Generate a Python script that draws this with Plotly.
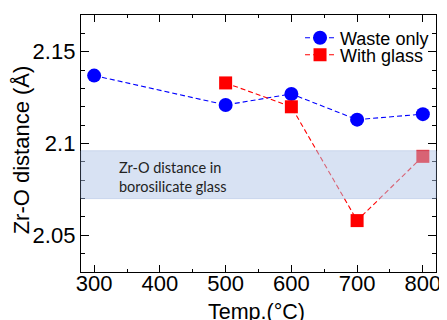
import plotly.graph_objects as go

temps_waste = [300, 500, 600, 700, 800]
waste_only = [2.137, 2.121, 2.127, 2.113, 2.116]
temps_glass = [500, 600, 700, 800]
with_glass = [2.133, 2.120, 2.058, 2.093]
band_low, band_high = 2.070, 2.096
band_label = "Zr-O distance in<br>borosilicate glass"
y_ticks = [2.05, 2.1, 2.15]
y_ticktext = ["2.05", "2.1", "2.15"]
x_ticks = [300, 400, 500, 600, 700, 800]
x_title = "Temp.(°C)"
y_title = "Zr-O distance (Å)"

FONT = "Arial, Liberation Sans, sans-serif"

fig = go.Figure()
fig.add_trace(go.Scatter(
    x=temps_waste, y=waste_only, name="Waste only", mode="lines+markers",
    line=dict(color="#0000ff", width=1.1, dash="5px,3px"),
    marker=dict(symbol="circle", size=14, color="#0000ff"),
    legend="legend",
))
fig.add_trace(go.Scatter(
    x=temps_glass, y=with_glass, name="With glass", mode="lines+markers",
    line=dict(color="#ff0000", width=1.1, dash="5px,3px"),
    marker=dict(symbol="square", size=13, color="#ff0000"),
    legend="legend2",
))

fig.add_shape(type="rect", xref="paper", x0=0, x1=1, yref="y", y0=band_low, y1=band_high,
              fillcolor="rgb(178,198,232)", opacity=0.5, layer="above",
              line=dict(color="rgb(150,175,220)", width=1))
fig.add_annotation(x=335, y=(band_low + band_high) / 2, xref="x", yref="y", yshift=-2,
                   text=band_label, showarrow=False, xanchor="left", align="left",
                   font=dict(family="Lato", size=14.5, color="#222222"))
fig.add_annotation(x=-0.168, y=0.4747, xref="paper", yref="paper", text=y_title,
                   textangle=-90, showarrow=False, xanchor="center", yanchor="middle",
                   font=dict(family=FONT, size=22, color="black"))
fig.add_annotation(x=0.4944, y=0, xref="paper", yref="paper", yshift=-26, text=x_title,
                   showarrow=False, xanchor="center", yanchor="top",
                   font=dict(family=FONT, size=21.5, color="black"))

axis_common = dict(showline=True, linecolor="black", linewidth=1.3, mirror="ticks",
                   ticks="inside", tickcolor="black", tickwidth=1.2, showgrid=False,
                   zeroline=False)
fig.update_xaxes(range=[280, 820], tickvals=x_ticks, ticklen=7, ticklabelstandoff=-9,
                 minor=dict(dtick=50, tick0=300, ticks="inside", ticklen=3, tickcolor="black", tickwidth=1),
                 tickfont=dict(size=22, family=FONT), **axis_common)
fig.update_yaxes(range=[2.03, 2.17], tickvals=y_ticks, ticktext=y_ticktext, ticklen=8,
                 minor=dict(dtick=0.01, tick0=2.0, ticks="inside", ticklen=4, tickcolor="black", tickwidth=1),
                 tickfont=dict(size=22, family=FONT), **axis_common)

leg_common = dict(xanchor="left", yanchor="middle", bgcolor="rgba(0,0,0,0)",
                  font=dict(size=18, family=FONT), itemwidth=30)
fig.update_layout(
    width=439, height=312,
    margin=dict(l=73, r=6, t=7, b=48),
    paper_bgcolor="white", plot_bgcolor="white",
    font=dict(family=FONT, color="black"),
    legend=dict(x=0.617, y=0.9105, **leg_common),
    legend2=dict(x=0.617, y=0.844, **leg_common),
    showlegend=True,
)
fig.write_html("out.html")
